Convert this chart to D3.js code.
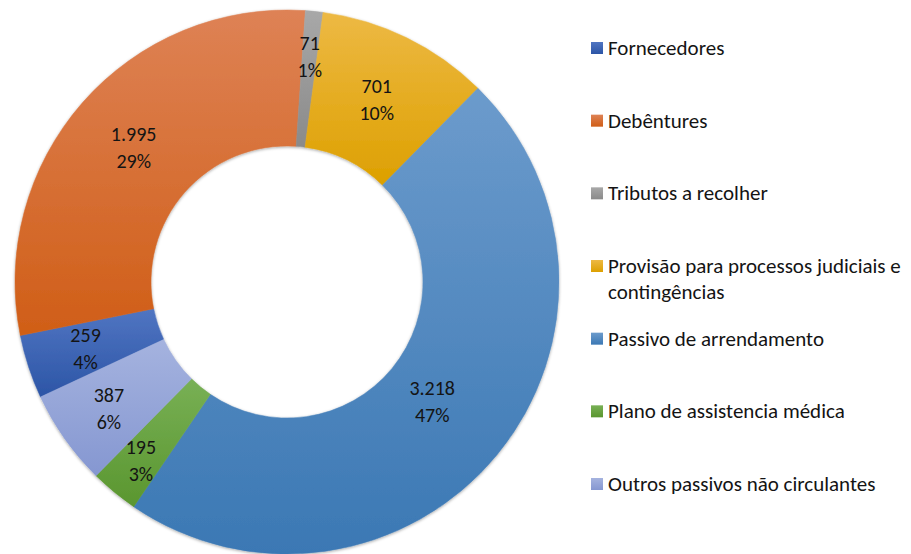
<!DOCTYPE html>
<html>
<head>
  <meta charset="utf-8">
  <script src="https://cdn.jsdelivr.net/npm/d3@7"></script>
  <style>
    body { margin: 0; background: #fff; }
    text { font-family: Carlito, Calibri, Lato, sans-serif; fill: #141414; }
  </style>
</head>
<body>
<script>
  // data
  var categories = ["Fornecedores", "Debêntures", "Tributos a recolher",
    "Provisão para processos judiciais e contingências", "Passivo de arrendamento",
    "Plano de assistencia médica", "Outros passivos não circulantes"];
  var values = [259, 1995, 71, 701, 3218, 195, 387];
  var valueLabels = ["259", "1.995", "71", "701", "3.218", "195", "387"];
  var legendLines = [["Fornecedores"], ["Debêntures"], ["Tributos a recolher"],
    ["Provisão para processos judiciais e", "contingências"], ["Passivo de arrendamento"],
    ["Plano de assistencia médica"], ["Outros passivos não circulantes"]];

  // gradient fill, top and bottom colour of each slice
  var topColors = ["#5075c2", "#de8255", "#a8a8a8", "#edb944", "#6c9bcc", "#78b055", "#a5b3df"];
  var bottomColors = ["#2c55a6", "#d05e17", "#8a8a8a", "#dda000", "#3b78b4", "#5a962f", "#8597d1"];

  var width = 911, height = 554;
  var cx = 287, cy = 282, outerR = 272, innerR = 136;
  // label distance from centre, small slices pushed outward like the original
  var labelR = [212, 204, 227, 204, 188, 230, 218];

  var svg = d3.select("body").append("svg")
    .attr("width", width)
    .attr("height", height);

  var defs = svg.append("defs");

  topColors.forEach(function(c, i){
    var g = defs.append("linearGradient")
      .attr("id", "grad" + i)
      .attr("x1", 0).attr("y1", 0).attr("x2", 0).attr("y2", 1);
    g.append("stop").attr("offset", "0%").attr("stop-color", c);
    g.append("stop").attr("offset", "100%").attr("stop-color", bottomColors[i]);
  });

  var shadow = defs.append("filter").attr("id", "shadow")
    .attr("x", "-10%").attr("y", "-10%").attr("width", "120%").attr("height", "120%");
  shadow.append("feDropShadow")
    .attr("dx", 0).attr("dy", 1)
    .attr("stdDeviation", 1.5)
    .attr("flood-color", "#000")
    .attr("flood-opacity", 0.35);

  var total = d3.sum(values);
  var startAngle = 245 * Math.PI / 180;

  var pie = d3.pie()
    .sort(null)
    .startAngle(startAngle)
    .endAngle(startAngle + 2 * Math.PI)
    .value(function(d){ return d; });

  var arcs = pie(values);

  var arc = d3.arc()
    .innerRadius(innerR)
    .outerRadius(outerR);

  var chart = svg.append("g")
    .attr("transform", "translate(" + cx + "," + cy + ")");

  chart.append("g")
    .attr("filter", "url(#shadow)")
    .selectAll("path")
    .data(arcs)
    .enter()
    .append("path")
    .attr("d", arc)
    .attr("fill", function(d, i){ return "url(#grad" + i + ")"; })
    .attr("stroke", function(d, i){ return "url(#grad" + i + ")"; })
    .attr("stroke-width", 0.5);

  var pct = d3.format(".0%");

  var labels = chart.selectAll(".slice_label")
    .data(arcs)
    .enter()
    .append("text")
    .classed("slice_label", true)
    .attr("transform", function(d, i){
      var a = (d.startAngle + d.endAngle) / 2;
      return "translate(" + (labelR[i] * Math.sin(a)) + "," + (-labelR[i] * Math.cos(a)) + ")";
    })
    .style("font-size", "20px")
    .style("text-anchor", "middle");

  labels.append("tspan")
    .attr("x", 0)
    .attr("y", -6)
    .text(function(d, i){ return valueLabels[i]; });

  labels.append("tspan")
    .attr("x", 0)
    .attr("y", 21)
    .text(function(d){ return pct(d.value / total); });

  // legend
  var legendY = d3.scalePoint()
    .domain(categories)
    .range([48, 484]);

  var legend = svg.append("g").attr("class", "legend");

  var items = legend.selectAll(".item")
    .data(categories)
    .enter()
    .append("g")
    .attr("class", "item")
    .attr("transform", function(d){ return "translate(591," + legendY(d) + ")"; });

  items.append("rect")
    .attr("x", 0)
    .attr("y", -6)
    .attr("width", 12)
    .attr("height", 12)
    .attr("fill", function(d, i){ return "url(#grad" + i + ")"; });

  items.append("text")
    .attr("x", 17)
    .attr("y", 7)
    .style("font-size", "21px")
    .selectAll("tspan")
    .data(function(d, i){ return legendLines[i]; })
    .enter()
    .append("tspan")
    .attr("x", 17)
    .attr("dy", function(d, j){ return j === 0 ? 0 : 26; })
    .text(function(d){ return d; });
</script>
</body>
</html>
